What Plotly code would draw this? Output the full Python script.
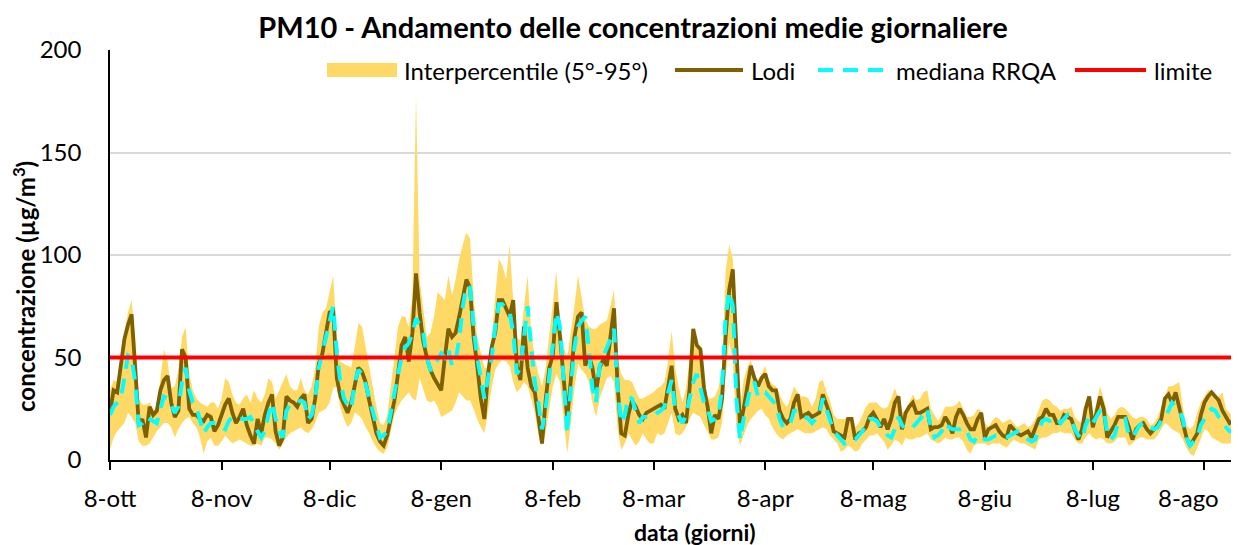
import pandas as pd
import plotly.graph_objects as go

# ---- data (daily PM10, ug/m3) ----
start_date = "2018-10-08"

lodi = [
    23, 34, 33, 45, 59, 66, 71, 45, 17, 20,
    11, 26, 22, 24, 34, 39, 41, 28, 21, 24,
    54, 50, 25, 22, 22, 20, 19, 22, 21, 14,
    17, 22, 27, 30, 23, 18, 21, 25, 17, 12,
    8, 20, 13, 22, 28, 32, 14, 7, 11, 31,
    29, 28, 26, 30, 32, 18, 20, 30, 47, 52,
    62, 72, 73, 40, 31, 27, 23, 28, 36, 45,
    43, 38, 29, 20, 13, 9, 7, 12, 20, 29,
    42, 56, 60, 48, 62, 91, 72, 58, 50, 44,
    40, 37, 34, 50, 64, 60, 62, 70, 80, 88,
    84, 60, 46, 30, 20, 42, 55, 62, 78, 78,
    74, 70, 78, 46, 39, 65, 45, 36, 33, 20,
    8, 29, 45, 51, 77, 60, 40, 20, 39, 60,
    70, 72, 46, 51, 45, 33, 45, 49, 46, 60,
    74, 36, 13, 12, 22, 29, 26, 22, 20, 23,
    24, 25, 26, 27, 25, 35, 46, 25, 20, 22,
    18, 35, 64, 56, 54, 35, 26, 13, 22, 20,
    30, 60, 83, 93, 54, 16, 25, 35, 46, 40,
    36, 40, 42, 36, 34, 34, 24, 20, 18, 20,
    28, 32, 21, 22, 23, 21, 22, 23, 32, 27,
    22, 14, 13, 12, 11, 20, 20, 10, 13, 14,
    16, 21, 23, 20, 16, 20, 15, 20, 28, 31,
    15, 23, 26, 28, 23, 23, 24, 25, 15, 16,
    16, 17, 21, 18, 13, 21, 25, 22, 18, 15,
    15, 20, 23, 11, 15, 16, 17, 14, 12, 11,
    17, 15, 13, 12, 13, 14, 11, 15, 20, 21,
    25, 22, 22, 18, 18, 22, 21, 20, 15, 10,
    15, 25, 31, 16, 23, 31, 25, 11, 14, 17,
    21, 21, 21, 16, 10, 15, 17, 18, 15, 13,
    15, 17, 20, 30, 32, 28, 33, 25, 18, 11,
    7, 10, 13, 22, 28, 31, 33, 31, 29, 24,
    21, 18, 19, 20,
]

mediana = [
    22, 26, 28, 30, 40, 51, 50, 38, 17, 18,
    21, 20, 19, 18, 25, 31, 30, 27, 23, 26,
    38, 45, 34, 28, 26, 20, 13, 16, 18, 18,
    18, 16, 15, 19, 21, 21, 20, 20, 20, 21,
    17, 14, 11, 14, 22, 28, 20, 14, 11, 24,
    27, 28, 28, 29, 28, 20, 22, 30, 45, 52,
    60, 68, 75, 52, 38, 30, 27, 25, 38, 44,
    42, 37, 30, 22, 17, 11, 12, 14, 24, 32,
    42, 50, 55, 57, 62, 69, 66, 62, 50, 44,
    44, 49, 52, 50, 54, 46, 48, 59, 75, 85,
    84, 65, 50, 40, 30, 40, 49, 65, 76, 76,
    74, 72, 62, 42, 45, 62, 75, 55, 38, 28,
    15, 25, 40, 55, 72, 65, 35, 13, 35, 55,
    65, 68, 70, 55, 35, 28, 46, 50, 54, 59,
    64, 35, 18, 22, 31, 30, 24, 18, 21, 21,
    21, 21, 23, 24, 26, 32, 39, 25, 21, 18,
    22, 29, 38, 42, 35, 28, 25, 19, 20, 22,
    35, 70, 82, 75, 30, 10, 20, 28, 36, 38,
    31, 33, 33, 31, 29, 27, 20, 16, 16, 18,
    24, 24, 22, 21, 20, 18, 20, 22, 30, 25,
    20, 14, 12, 10, 8, 9, 10, 10, 12, 14,
    18, 20, 20, 19, 16, 15, 12, 11, 15, 21,
    17, 15, 15, 16, 18, 20, 22, 25, 16, 11,
    12, 14, 18, 16, 15, 15, 15, 16, 14, 10,
    9, 12, 12, 10, 10, 11, 12, 12, 11, 11,
    12, 13, 14, 13, 11, 10, 9, 10, 15, 19,
    20, 19, 20, 21, 18, 20, 22, 20, 15, 12,
    10, 17, 21, 18, 21, 24, 25, 13, 10, 12,
    18, 19, 20, 12, 11, 14, 17, 18, 18, 16,
    15, 16, 19, 21, 24, 28, 26, 24, 20, 11,
    7, 9, 11, 17, 20, 23, 25, 24, 21, 19,
    16, 14, 14, 16,
]

p95 = [
    34, 39, 38, 45, 62, 72, 78, 60, 30, 27,
    27, 28, 25, 24, 40, 54, 48, 35, 36, 44,
    60, 65, 42, 34, 30, 28, 27, 26, 28, 28,
    25, 30, 40, 38, 32, 28, 27, 30, 32, 28,
    34, 30, 28, 32, 40, 38, 30, 34, 38, 42,
    36, 34, 34, 40, 34, 32, 36, 45, 65, 72,
    74, 82, 90, 60, 48, 47, 46, 45, 55, 67,
    65, 55, 45, 36, 26, 18, 17, 22, 35, 50,
    65, 70, 70, 65, 80, 178, 88, 75, 60, 62,
    70, 82, 80, 78, 90, 80, 88, 98, 105, 111,
    108, 80, 60, 52, 45, 45, 59, 80, 98, 95,
    88, 105, 78, 60, 58, 75, 90, 62, 50, 42,
    36, 45, 60, 75, 92, 68, 55, 50, 62, 75,
    90, 80, 69, 65, 64, 64, 66, 67, 68, 75,
    83, 50, 42, 39, 39, 38, 34, 30, 30, 31,
    32, 33, 35, 36, 38, 48, 63, 45, 35, 28,
    35, 49, 60, 60, 50, 39, 30, 30, 31, 35,
    46, 92, 105, 98, 59, 26, 39, 45, 49, 41,
    39, 42, 46, 39, 37, 36, 32, 28, 26, 30,
    36, 33, 31, 31, 30, 26, 30, 38, 39, 33,
    29, 22, 20, 20, 20, 21, 19, 16, 18, 22,
    26, 28, 28, 28, 26, 25, 26, 30, 35, 30,
    23, 24, 28, 32, 29, 30, 33, 34, 25, 22,
    19, 22, 26, 26, 26, 27, 29, 25, 21, 21,
    22, 25, 24, 18, 16, 19, 21, 20, 18, 19,
    20, 18, 16, 17, 18, 16, 17, 20, 25, 29,
    30, 29, 27, 26, 24, 25, 25, 26, 21, 19,
    18, 26, 31, 21, 28, 36, 30, 23, 20, 22,
    25, 26, 25, 23, 21, 20, 21, 21, 20, 17,
    18, 21, 26, 31, 36, 36, 37, 38, 26, 17,
    15, 17, 23, 28, 31, 34, 34, 29, 31, 33,
    25, 23, 21, 23,
]

p5 = [
    5, 11, 14, 16, 18, 23, 21, 18, 9, 7,
    7, 8, 11, 14, 16, 18, 18, 16, 11, 15,
    18, 20, 21, 18, 16, 11, 3, 9, 11, 7,
    7, 9, 12, 10, 8, 9, 10, 9, 8, 7,
    7, 8, 7, 11, 11, 10, 8, 5, 8, 11,
    13, 14, 15, 16, 14, 13, 15, 18, 23, 24,
    25, 28, 35, 36, 25, 20, 16, 18, 23, 22,
    20, 16, 13, 9, 6, 4, 3, 6, 14, 22,
    26, 29, 31, 33, 30, 29, 40, 35, 29, 28,
    29, 26, 21, 22, 23, 24, 28, 33, 31, 29,
    29, 25, 20, 16, 13, 25, 35, 44, 47, 49,
    48, 46, 38, 33, 35, 38, 36, 30, 23, 12,
    7, 13, 25, 36, 42, 38, 20, 3, 18, 35,
    47, 44, 42, 38, 28, 21, 30, 35, 40, 41,
    38, 15, 5, 8, 13, 10, 7, 9, 13, 10,
    8, 8, 13, 12, 13, 18, 23, 13, 12, 13,
    16, 20, 23, 22, 21, 17, 14, 10, 10, 11,
    18, 40, 58, 48, 16, 7, 12, 17, 20, 22,
    24, 25, 22, 20, 16, 13, 11, 10, 12, 13,
    14, 15, 14, 13, 13, 13, 14, 15, 16, 15,
    12, 10, 8, 4, 5, 7, 6, 4, 5, 8,
    10, 12, 12, 13, 11, 9, 5, 7, 10, 9,
    7, 11, 10, 10, 11, 11, 12, 13, 10, 9,
    8, 9, 11, 10, 10, 11, 11, 9, 5, 3,
    7, 8, 8, 8, 7, 8, 8, 8, 7, 6,
    8, 10, 9, 8, 8, 7, 6, 5, 10, 11,
    11, 12, 13, 13, 14, 13, 13, 13, 10, 8,
    8, 11, 13, 11, 10, 11, 10, 8, 8, 9,
    11, 11, 11, 7, 8, 10, 11, 11, 10, 10,
    10, 12, 15, 18, 17, 15, 14, 13, 10, 6,
    3, 2, 6, 11, 15, 14, 11, 10, 9, 8,
    8, 8, 9, 10,
]

valore_limite = 50

tick_dates = ["2018-10-08", "2018-11-08", "2018-12-08", "2019-01-08", "2019-02-08",
              "2019-03-08", "2019-04-08", "2019-05-08", "2019-06-08", "2019-07-08",
              "2019-08-08"]
tick_labels = ["8-ott", "8-nov", "8-dic", "8-gen", "8-feb", "8-mar", "8-apr",
               "8-mag", "8-giu", "8-lug", "8-ago"]

legend_names = ["Interpercentile (5°-95°)", "Lodi", "mediana RRQA", "limite"]

# ---- style ----
FONT = "Lato"
BAND = "#FFD966"
BROWN = "#7F6000"
CYAN = "#00FFFF"
RED = "#FF0000"
DASH = "15px,10px"

dates = pd.date_range(start_date, periods=len(lodi), freq="D")
limite = [valore_limite] * len(dates)

fig = go.Figure()

# band: 5th percentile (invisible) then 95th filled down to it
fig.add_trace(go.Scatter(x=dates, y=p5, mode="lines", line=dict(width=0),
                         showlegend=False, hoverinfo="skip"))
fig.add_trace(go.Scatter(x=dates, y=p95, mode="lines", line=dict(width=0),
                         fill="tonexty", fillcolor=BAND, name=legend_names[0]))

fig.add_trace(go.Scatter(x=dates, y=lodi, mode="lines", name=legend_names[1],
                         line=dict(color=BROWN, width=3.8)))
fig.add_trace(go.Scatter(x=dates, y=mediana, mode="lines", name=legend_names[2],
                         line=dict(color=CYAN, width=4, dash=DASH)))
fig.add_trace(go.Scatter(x=dates, y=limite, mode="lines", name=legend_names[3],
                         line=dict(color=RED, width=4)))

# ---- geometry: the page body has an 8px margin, so the figure is 8px smaller
# and every reference pixel position is shifted by that amount ----
OFF = 8
W, H = 1239 - OFF, 545 - OFF
L, R, T, B = 110 - OFF, 0, 50 - OFF, 85
pw, ph = W - L - R, H - T - B


def px(x):
    return (x - OFF - L) / pw


def py(y):
    return (H - B - (y - OFF)) / ph


# ---- hand-drawn legend (wide Excel-style swatches) ----
leg_y = 70
swatches = [(327, 397), (675, 743), (818, 887), (1075, 1146)]
text_x = [402, 749, 894, 1152]

fig.add_shape(type="rect", xref="paper", yref="paper",
              x0=px(swatches[0][0]), x1=px(swatches[0][1]),
              y0=py(leg_y + 7), y1=py(leg_y - 7),
              fillcolor=BAND, line_width=0)
fig.add_shape(type="line", xref="paper", yref="paper",
              x0=px(swatches[1][0]), x1=px(swatches[1][1]), y0=py(leg_y), y1=py(leg_y),
              line=dict(color=BROWN, width=3.8))
fig.add_shape(type="line", xref="paper", yref="paper",
              x0=px(swatches[2][0]), x1=px(swatches[2][1]), y0=py(leg_y), y1=py(leg_y),
              line=dict(color=CYAN, width=4, dash=DASH))
fig.add_shape(type="line", xref="paper", yref="paper",
              x0=px(swatches[3][0]), x1=px(swatches[3][1]), y0=py(leg_y), y1=py(leg_y),
              line=dict(color=RED, width=4))

for name, tx in zip(legend_names, text_x):
    fig.add_annotation(x=px(tx), y=py(leg_y), xref="paper", yref="paper",
                       text=name, showarrow=False, xanchor="left", yanchor="middle",
                       font=dict(family=FONT, size=24, color="black"))

# axis titles
fig.add_annotation(x=px(695), y=py(532), xref="paper", yref="paper",
                   text="<b>data (giorni)</b>", showarrow=False,
                   xanchor="center", yanchor="middle",
                   font=dict(family=FONT, size=23, color="black"))
fig.add_annotation(x=px(24), y=py(287), xref="paper", yref="paper",
                   text="<b>concentrazione (µg/m<sup>3</sup>)</b>", showarrow=False,
                   textangle=-90, xanchor="center", yanchor="middle",
                   font=dict(family=FONT, size=24, color="black"))

# like Excel, the last month label is pulled in so it stays inside the chart
fig.add_annotation(x=px(1188), y=py(497), xref="paper", yref="paper",
                   text=tick_labels[-1], showarrow=False,
                   xanchor="center", yanchor="middle",
                   font=dict(family=FONT, size=24, color="black"))
shown_labels = tick_labels[:-1] + [""]

fig.update_layout(
    width=W, height=H,
    margin=dict(l=L, r=R, t=T, b=B, pad=0),
    paper_bgcolor="white", plot_bgcolor="white",
    font=dict(family=FONT, size=24, color="black"),
    title=dict(text="<b>PM10 - Andamento delle concentrazioni medie giornaliere</b>",
               x=(633 - OFF) / W, xref="container", xanchor="center",
               y=1 - (28 - OFF) / H, yref="container", yanchor="middle",
               font=dict(family=FONT, size=29, color="black")),
    showlegend=False,
)

fig.update_xaxes(
    type="date",
    range=[dates[0], dates[0] + pd.Timedelta(days=313.6)],
    tickvals=tick_dates, ticktext=shown_labels,
    ticks="outside", ticklen=8, tickwidth=1.5, tickcolor="black",
    showline=True, linecolor="black", linewidth=1.5,
    showgrid=False, zeroline=False, ticklabelstandoff=8,
    automargin=False,
    tickfont=dict(family=FONT, size=24, color="black"),
)
fig.update_yaxes(
    range=[0, 200], dtick=50, tick0=0,
    showline=True, linecolor="black", linewidth=1.5,
    showgrid=True, gridcolor="#D9D9D9", gridwidth=1.5,
    zeroline=False, ticks="", ticklabelstandoff=22, automargin=False,
    tickfont=dict(family=FONT, size=24, color="black"),
)

fig.write_html("out.html")
